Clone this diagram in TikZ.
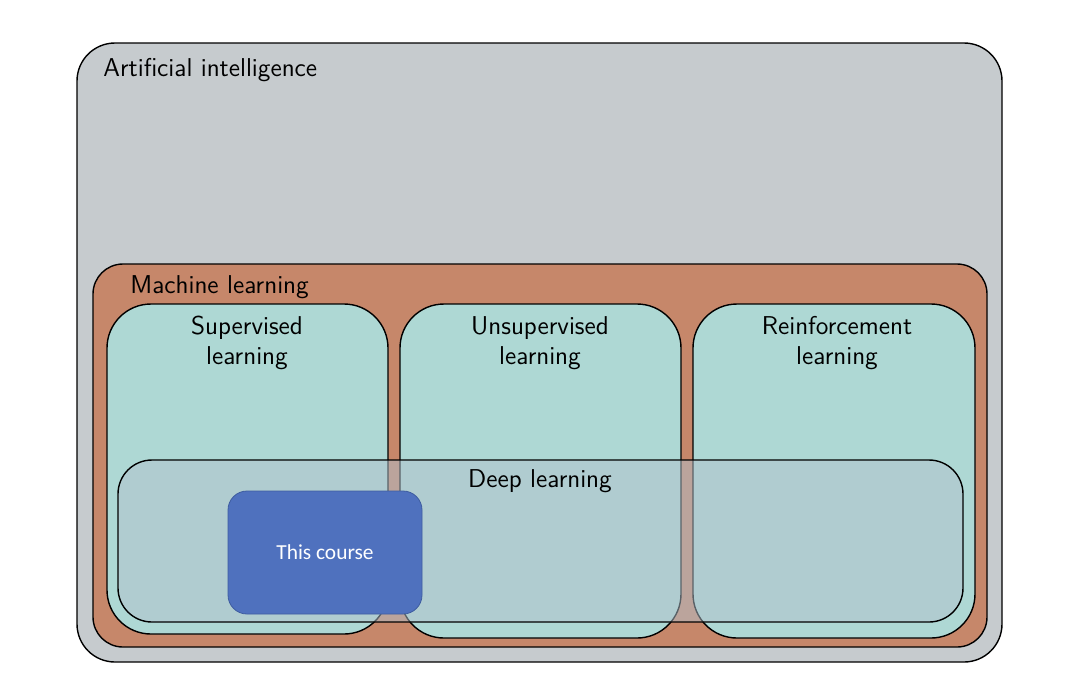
\documentclass[tikz,border=0pt]{standalone}
\usepackage{fontspec}
\newfontfamily\carlito{Carlito}
\usetikzlibrary{fit}
\definecolor{aigray}{RGB}{198,203,206}
\definecolor{mlorange}{RGB}{198,135,106}
\definecolor{tealbox}{RGB}{174,216,212}
\definecolor{deepfill}{RGB}{178,194,206}
\definecolor{coursefill}{RGB}{79,113,190}
\definecolor{courseedge}{RGB}{62,92,160}
\tikzset{
  box/.style={draw=black, line width=0.7pt, inner sep=0pt},
  lbl/.style={inner sep=0pt, font=\sffamily\fontsize{12.9}{15}\selectfont, text=black},
}
\begin{document}
\begin{tikzpicture}[x=0.5pt, y=-0.5pt]
\useasboundingbox (0,0) rectangle (1082,698);
\node[box, fill=aigray, rounded corners=19pt, fit={(77,43) (1002,662)}] (ai) {};
\node[box, fill=mlorange, rounded corners=15pt, fit={(93,264) (987,647)}] (ml) {};
\node[box, fill=tealbox, rounded corners=22pt, fit={(107,304) (388,634)}] (sup) {};
\node[box, fill=tealbox, rounded corners=22pt, fit={(400,304) (681,638)}] (uns) {};
\node[box, fill=tealbox, rounded corners=22pt, fit={(693,304) (975,638)}] (rl) {};
\node[box, fill=deepfill, fill opacity=0.5, rounded corners=17pt, fit={(118,460) (963,622)}] (deep) {};
\node[draw=courseedge, line width=0.4pt, fill=coursefill, rounded corners=9.5pt, inner sep=0pt, fit={(228,491) (422,614)}] (course) {};
\node[lbl, anchor=base west] (ailbl) at (103,76) {Artificial intelligence};
\node[lbl, anchor=base west] (mllbl) at (130,293) {Machine learning};
\node[lbl, align=center] (suplbl) at (247,343) {Supervised\\learning};
\node[lbl, align=center] (unslbl) at (540,343) {Unsupervised\\learning};
\node[lbl, align=center] (rllbl) at (837,343) {Reinforcement\\learning};
\node[lbl, anchor=base] (deeplbl) at (540,487) {Deep learning};
\node[inner sep=0pt, text=white, font=\carlito\fontsize{10.7}{12}\selectfont, anchor=base] (courselbl) at (325,559) {This course};
\end{tikzpicture}
\end{document}
